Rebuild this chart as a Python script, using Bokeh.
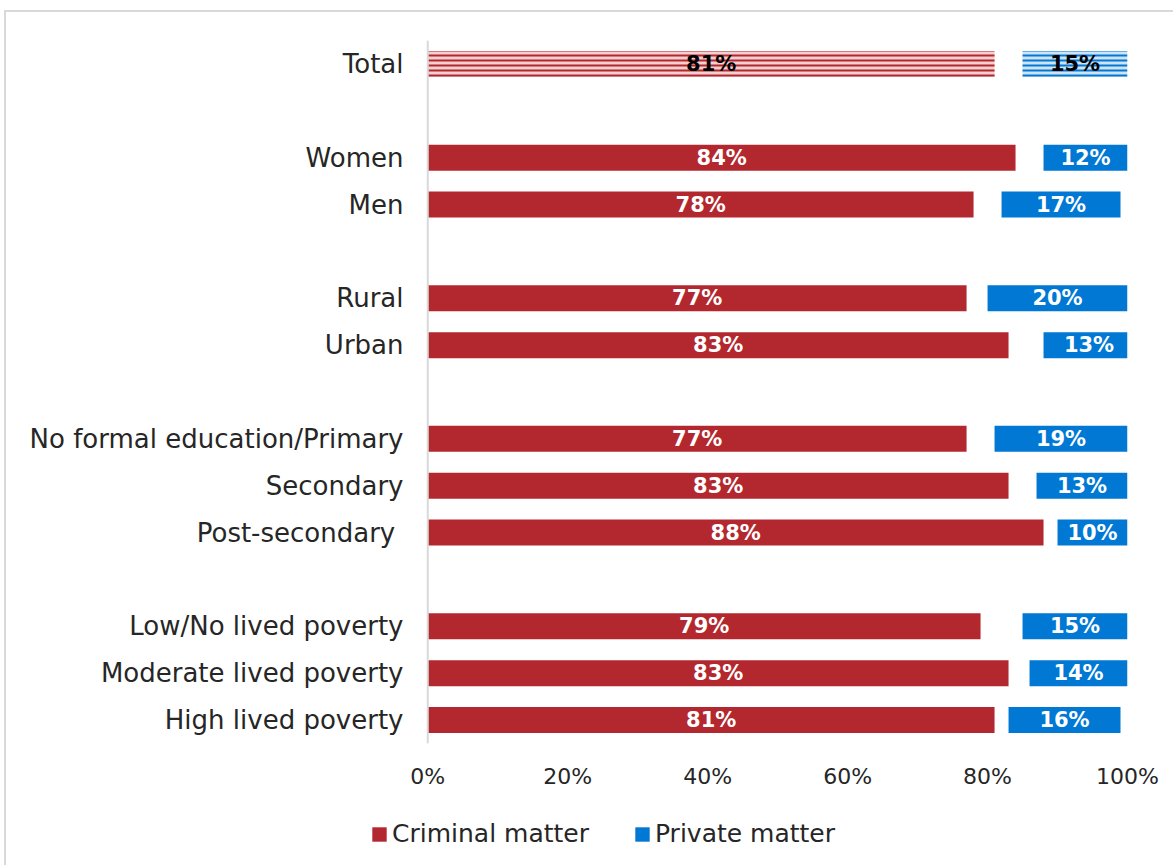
from bokeh.plotting import figure
from bokeh.models import (Range1d, FixedTicker, PrintfTickFormatter, Legend, LegendItem,
                          ColumnDataSource, Column, Span)
from bokeh.core.properties import value
from bokeh.embed import file_html
from bokeh.resources import INLINE

# ---- data -------------------------------------------------------------
groups = ["Total", "", "Women", "Men", "", "Rural", "Urban", "",
          "No formal education/Primary", "Secondary", "Post-secondary ", "",
          "Low/No lived poverty", "Moderate lived poverty", "High lived poverty"]
criminal = [81, None, 84, 78, None, 77, 83, None, 77, 83, 88, None, 79, 83, 81]
other = [4, None, 4, 4, None, 3, 5, None, 4, 4, 2, None, 6, 3, 2]
private = [15, None, 12, 17, None, 20, 13, None, 19, 13, 10, None, 15, 14, 16]
ticks_x = [0, 20, 40, 60, 80, 100]
series_names = ["Criminal matter", "Private matter"]

RED = "#B3282E"
BLUE = "#0078D4"
FONT = "DejaVu Sans"

rows = [i for i, g in enumerate(groups) if g != ""]
ypos = rows
crim = [criminal[i] for i in rows]
oth = [other[i] for i in rows]
priv = [private[i] for i in rows]
pstart = [c + o for c, o in zip(crim, oth)]
pend = [s + p for s, p in zip(pstart, priv)]
is_total = [groups[i] == "Total" for i in rows]

def sub(lst, mask):
    return [v for v, m in zip(lst, mask) if m]

tot = is_total
nt = [not t for t in is_total]

def make_src(mask, left, right, vals):
    l = sub(left, mask)
    r = sub(right, mask)
    return ColumnDataSource(dict(y=sub(ypos, mask), left=l, right=r,
                                 lab=[f"{v}%" for v in sub(vals, mask)],
                                 mid=[(a + b) / 2 for a, b in zip(l, r)]))

zeros = [0] * len(rows)
src_c = make_src(nt, zeros, crim, crim)
src_p = make_src(nt, pstart, pend, priv)
src_ct = make_src(tot, zeros, crim, crim)
src_pt = make_src(tot, pstart, pend, priv)

n = len(groups)
# frame starts a little left of 0% so the legend strip below can start there too
X0 = -9.756
p = figure(width=1169, height=800, output_backend="svg", toolbar_location=None,
           x_range=Range1d(X0, 100), y_range=Range1d(n - 0.5, -0.5),
           min_border_left=353, min_border_right=48, min_border_top=28, min_border_bottom=69)
p.outline_line_color = None
p.grid.grid_line_color = None
p.background_fill_color = "white"
p.border_fill_color = "white"

p.add_layout(Span(location=0, dimension="height", line_color="#d9d9d9", line_width=2))

H = 0.555
p.hbar(y="y", left="left", right="right", height=H, source=src_c, fill_color=RED,
       line_color=None)
p.hbar(y="y", left="left", right="right", height=H, source=src_p, fill_color=BLUE,
       line_color=None)
p.hbar(y="y", left="left", right="right", height=H, source=src_ct, fill_color="#f2d0d1",
       line_color=None, hatch_pattern="horizontal_line", hatch_color=RED,
       hatch_scale=5, hatch_weight=2)
p.hbar(y="y", left="left", right="right", height=H, source=src_pt, fill_color="#cfe3f6",
       line_color=None, hatch_pattern="horizontal_line", hatch_color=BLUE,
       hatch_scale=5, hatch_weight=2)

for s, col in [(src_c, "white"), (src_p, "white"), (src_ct, "black"), (src_pt, "black")]:
    p.text(x="mid", y="y", text="lab", source=s, text_align="center", text_baseline="middle",
           text_color=col, text_font=value(FONT), text_font_style="bold",
           text_font_size="21px")

# axes
p.yaxis.ticker = FixedTicker(ticks=ypos)
p.yaxis.major_label_overrides = {i: groups[i] for i in rows}
p.yaxis.axis_line_color = None
p.yaxis.major_tick_line_color = None
p.yaxis.minor_tick_line_color = None
p.yaxis.major_label_standoff = -50
p.yaxis.major_label_text_font = FONT
p.yaxis.major_label_text_font_size = "26px"
p.yaxis.major_label_text_color = "#262626"

p.xaxis.ticker = FixedTicker(ticks=ticks_x)
p.xaxis.formatter = PrintfTickFormatter(format="%d%%")
p.xaxis.axis_line_color = None
p.xaxis.major_tick_line_color = None
p.xaxis.minor_tick_line_color = None
p.xaxis.major_label_standoff = 14
p.xaxis.major_label_text_font = FONT
p.xaxis.major_label_text_font_size = "22px"
p.xaxis.major_label_text_color = "#262626"

# ---- legend strip ----------------------------------------------------
lg = figure(width=1169, height=55, output_backend="svg", toolbar_location=None,
            x_range=p.x_range, y_range=Range1d(100, 101),
            x_axis_location=None, y_axis_location=None,
            min_border_left=353, min_border_right=48, min_border_top=0, min_border_bottom=0)
lg.outline_line_color = None
lg.grid.grid_line_color = None
d1 = lg.hbar(y="y", left="left", right="right", height=H, source=src_c, fill_color=RED,
             line_color=None)
d2 = lg.hbar(y="y", left="left", right="right", height=H, source=src_p, fill_color=BLUE,
             line_color=None)
legend = Legend(items=[LegendItem(label=series_names[0], renderers=[d1]),
                       LegendItem(label=series_names[1], renderers=[d2])],
                orientation="horizontal", location=(11, 19),
                glyph_width=18, glyph_height=18, label_standoff=4, spacing=44,
                padding=0, margin=0, border_line_color=None, background_fill_alpha=0,
                label_text_font=FONT, label_text_font_size="25px",
                label_text_color="#262626")
lg.add_layout(legend, "center")

layout = Column(p, lg, margin=(10, 0, 0, 4), spacing=0,
                styles={"border-top": "2px solid #d9d9d9", "border-left": "2px solid #d9d9d9"})

open("out.html", "w").write(file_html(layout, INLINE))
